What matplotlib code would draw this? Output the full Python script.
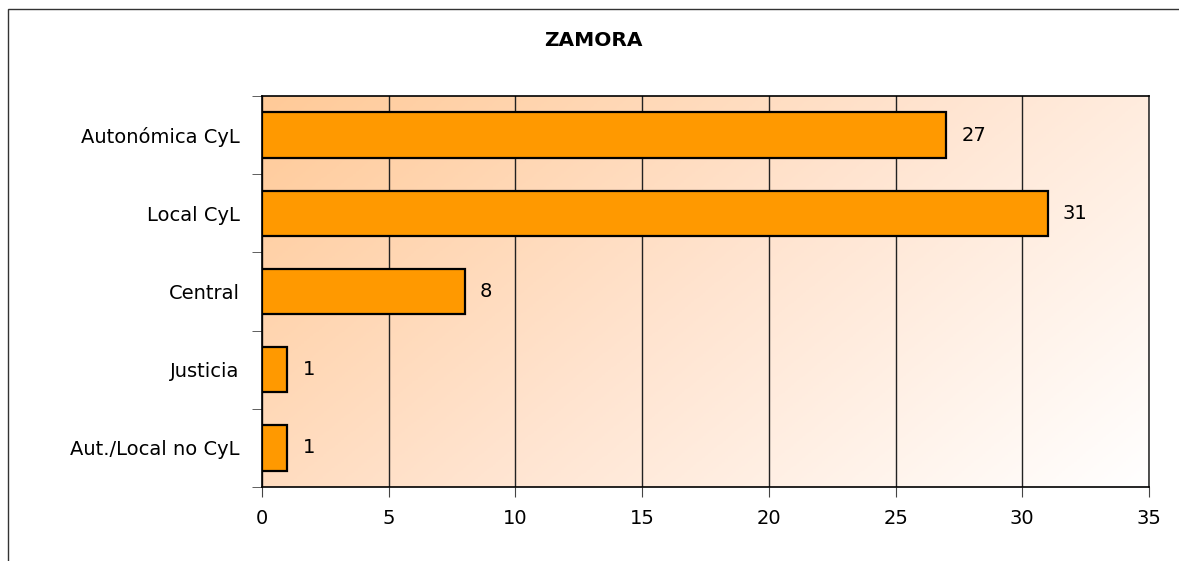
import numpy as np
import matplotlib.pyplot as plt
from matplotlib.colors import LinearSegmentedColormap
from matplotlib.patches import Rectangle

categories = ["Autonómica CyL", "Local CyL", "Central", "Justicia", "Aut./Local no CyL"]
values = [27, 31, 8, 1, 1]
x_ticks = [0, 5, 10, 15, 20, 25, 30, 35]
title = "ZAMORA"

fig = plt.figure(figsize=(11.79, 5.61), dpi=100)
ax = fig.add_axes([262 / 1179, 1 - 487 / 561, (1149 - 262) / 1179, (487 - 96) / 561])

# frame around whole chart
fig.patches.append(Rectangle((8 / 1179, -0.1), 1.2, 1 - 9 / 561 + 0.1, transform=fig.transFigure,
                             fill=False, edgecolor="#333333", linewidth=1.0))

n = len(categories)
ypos = np.arange(n)[::-1]

ax.set_xlim(0, 35)
ax.set_ylim(-0.5, n - 0.5)

# diagonal gradient background, peach top-left to white bottom-right
cmap = LinearSegmentedColormap.from_list("peach", ["#FFCA98", "#FFE4D0", "#FFFFFF"])
gx, gy = np.meshgrid(np.linspace(0, 1, 300), np.linspace(0, 1, 300))
grad = (gx * 0.65 + gy * 0.35)
ax.imshow(grad, cmap=cmap, extent=[0, 35, -0.5, n - 0.5], aspect="auto",
          origin="upper", zorder=0, interpolation="bilinear")

ax.barh(ypos, values, height=0.58, color="#FF9900", edgecolor="black", linewidth=1.6, zorder=3)
for y, v in zip(ypos, values):
    ax.text(v + 0.6, y, str(v), va="center", ha="left", fontsize=14, zorder=4)

ax.set_xticks(x_ticks)
ax.set_xticklabels([str(t) for t in x_ticks], fontsize=14)
ax.grid(axis="x", color="#222222", linewidth=1.0, zorder=1)
ax.set_axisbelow(True)

ax.set_yticks(ypos)
ax.set_yticklabels(categories, fontsize=14)
ax.tick_params(axis="y", which="major", length=0, pad=16)
ax.set_yticks(np.arange(-0.5, n, 1.0), minor=True)
ax.tick_params(axis="y", which="minor", length=7, color="#444444", direction="out")
ax.tick_params(axis="x", length=7, color="#444444", direction="out", pad=9)

for s in ["top", "bottom", "left", "right"]:
    ax.spines[s].set_color("black")
    ax.spines[s].set_linewidth(1.2)
ax.spines["right"].set_color("#333333")

fig.text(593 / 1179, 1 - 40 / 561, title, ha="center", va="center", fontsize=14.5, fontweight="bold")

fig.savefig("out.png", dpi=100)
